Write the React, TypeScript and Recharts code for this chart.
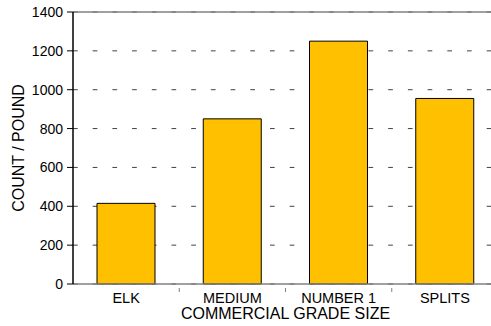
import React from "react";
import {
  BarChart,
  Bar,
  XAxis,
  YAxis,
  CartesianGrid,
  ReferenceLine,
} from "recharts";

const categories = ["ELK", "MEDIUM", "NUMBER 1", "SPLITS"];
const counts = [415, 850, 1250, 955];
const yTicks = [0, 200, 400, 600, 800, 1000, 1200, 1400];

const chartData = categories.map((name, i) => ({ name, count: counts[i] }));

const WIDTH = 500;
const HEIGHT = 326;
const LEFT = 73;
const RIGHT_MARGIN = 2;
const band = (WIDTH - LEFT - RIGHT_MARGIN) / categories.length;

const font = "Arial, 'Liberation Sans', sans-serif";

// category label at the centre, small grey tick at the left band edge
function CategoryTick(props: any) {
  const { x, y, payload, index } = props;
  return (
    <g>
      {index > 0 && (
        <line x1={x - band / 2} x2={x - band / 2} y1={y - 4} y2={y} stroke="#808080" strokeWidth={1} />
      )}
      <text x={x} y={y + 11} textAnchor="middle" fontSize={14.5} fill="#000" fontFamily={font}>
        {payload.value}
      </text>
    </g>
  );
}

export default function App() {
  return (
    <div style={{ position: "absolute", left: 0, top: 0 }}>
      <BarChart
        width={WIDTH}
        height={HEIGHT}
        data={chartData}
        margin={{ top: 12, right: RIGHT_MARGIN, bottom: 0, left: 0 }}
        barCategoryGap={24}
      >
        <CartesianGrid
          vertical={false}
          stroke="#404040"
          strokeDasharray="4.7 15"
        />
        <ReferenceLine y={1400} stroke="#808080" strokeWidth={1.5} />
        <XAxis
          dataKey="name"
          height={42}
          axisLine={{ stroke: "#808080", strokeWidth: 1.5 }}
          tickLine={false}
          tick={<CategoryTick />}
          interval={0}
          label={{
            value: "COMMERCIAL GRADE SIZE",
            position: "insideBottom",
            offset: 7,
            style: { fontSize: 16, fill: "#000", fontFamily: font },
          }}
        />
        <YAxis
          width={LEFT}
          domain={[0, 1400]}
          ticks={yTicks}
          interval={0}
          axisLine={{ stroke: "#000", strokeWidth: 1.5 }}
          tickLine={{ stroke: "#000" }}
          tickSize={6}
          tickMargin={4}
          tick={{ fontSize: 14, fill: "#000", fontFamily: font }}
          label={{
            value: "COUNT / POUND",
            angle: -90,
            position: "insideLeft",
            offset: 18,
            style: { fontSize: 16, fill: "#000", fontFamily: font, textAnchor: "middle" },
          }}
        />
        <Bar
          dataKey="count"
          fill="#FFC000"
          stroke="#000"
          strokeWidth={1}
          isAnimationActive={false}
        />
      </BarChart>
    </div>
  );
}
